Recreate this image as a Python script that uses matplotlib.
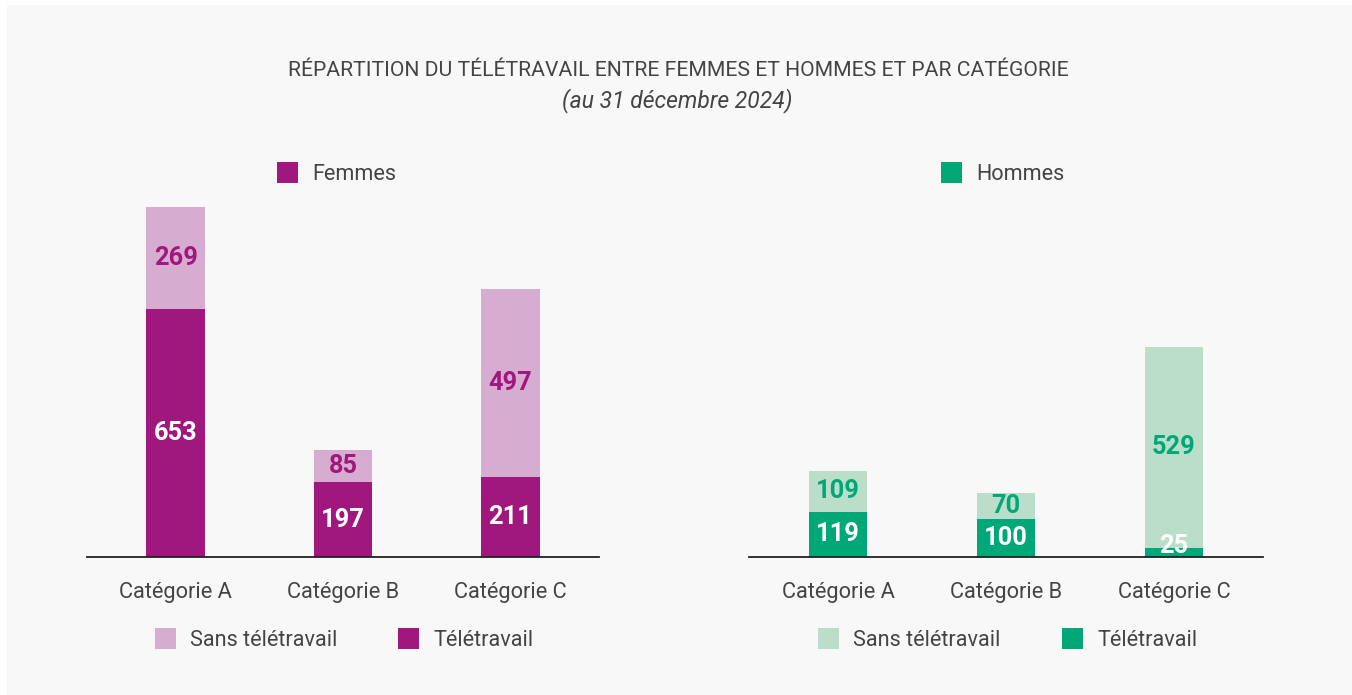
import matplotlib
matplotlib.use("Agg")
import matplotlib.pyplot as plt
from matplotlib.patches import Rectangle

plt.rcParams['font.family'] = ['Roboto', 'DejaVu Sans']

# data
categories = ["Catégorie A", "Catégorie B", "Catégorie C"]
femmes_tele = [653, 197, 211]
femmes_sans = [269, 85, 497]
hommes_tele = [119, 100, 25]
hommes_sans = [109, 70, 529]

title = "RÉPARTITION DU TÉLÉTRAVAIL ENTRE FEMMES ET HOMMES ET PAR CATÉGORIE"
subtitle = "(au 31 décembre 2024)"

TXT = "#444444"
F_DARK, F_LIGHT = "#a0177e", "#d6acd0"
H_DARK, H_LIGHT = "#00a878", "#bbdeca"

W, H = 1352, 695
fig = plt.figure(figsize=(W / 100, H / 100), dpi=100)
fig.patch.set_facecolor("white")
# light grey panel
fig.add_artist(Rectangle((7 / W, 0), 1, 1 - 5 / H, transform=fig.transFigure,
                         facecolor="#f8f8f8", edgecolor="none", zorder=-10))

fig.text(678 / W, 1 - 71 / H, title, ha="center", va="center", fontsize=15.2, color=TXT)
fig.text(677 / W, 1 - 101 / H, subtitle, ha="center", va="center", fontsize=16.5,
         color=TXT, style="italic")


def panel(left_px, right_px, tele, sans, dark, light):
    ax = fig.add_axes([left_px / W, (H - 557) / H, (right_px - left_px) / W, 361 / H])
    ax.set_facecolor("none")
    x = list(range(len(categories)))
    ax.bar(x, tele, width=0.35, color=dark, zorder=2)
    ax.bar(x, sans, width=0.35, bottom=tele, color=light, zorder=2)
    ax.set_xlim(-0.53, 2.53)
    ax.set_ylim(0, 952)
    for s in ["top", "right", "left"]:
        ax.spines[s].set_visible(False)
    ax.spines["bottom"].set_color("#222222")
    ax.spines["bottom"].set_linewidth(1.3)
    ax.spines["bottom"].set_zorder(3)
    ax.set_yticks([])
    ax.set_xticks(x)
    ax.set_xticklabels(categories, fontsize=15.7, color=TXT)
    ax.tick_params(axis="x", length=0, pad=18)
    for i in x:
        yt = max(tele[i] / 2, 30)
        ax.text(i, yt, str(tele[i]), ha="center", va="center", color="white",
                fontsize=18.3, fontweight="bold", zorder=4)
        ax.text(i, tele[i] + sans[i] / 2, str(sans[i]), ha="center", va="center",
                color=dark, fontsize=18.3, fontweight="bold", zorder=4)
    return ax


def legend_item(x_px, y_px, color, label):
    fig.add_artist(Rectangle((x_px / W, 1 - (y_px + 10.5) / H), 21 / W, 21 / H,
                             transform=fig.transFigure, facecolor=color, edgecolor="none"))
    fig.text((x_px + 35) / W, 1 - (y_px + 2.5) / H, label, ha="left", va="center",
             fontsize=15.6, color=TXT)


panel(87, 599, femmes_tele, femmes_sans, F_DARK, F_LIGHT)
panel(749, 1263, hommes_tele, hommes_sans, H_DARK, H_LIGHT)

legend_item(277, 172, F_DARK, "Femmes")
legend_item(941, 172, H_DARK, "Hommes")
legend_item(155, 638, F_LIGHT, "Sans télétravail")
legend_item(398, 638, F_DARK, "Télétravail")
legend_item(818, 638, H_LIGHT, "Sans télétravail")
legend_item(1062, 638, H_DARK, "Télétravail")

fig.savefig("out.png", dpi=100)
